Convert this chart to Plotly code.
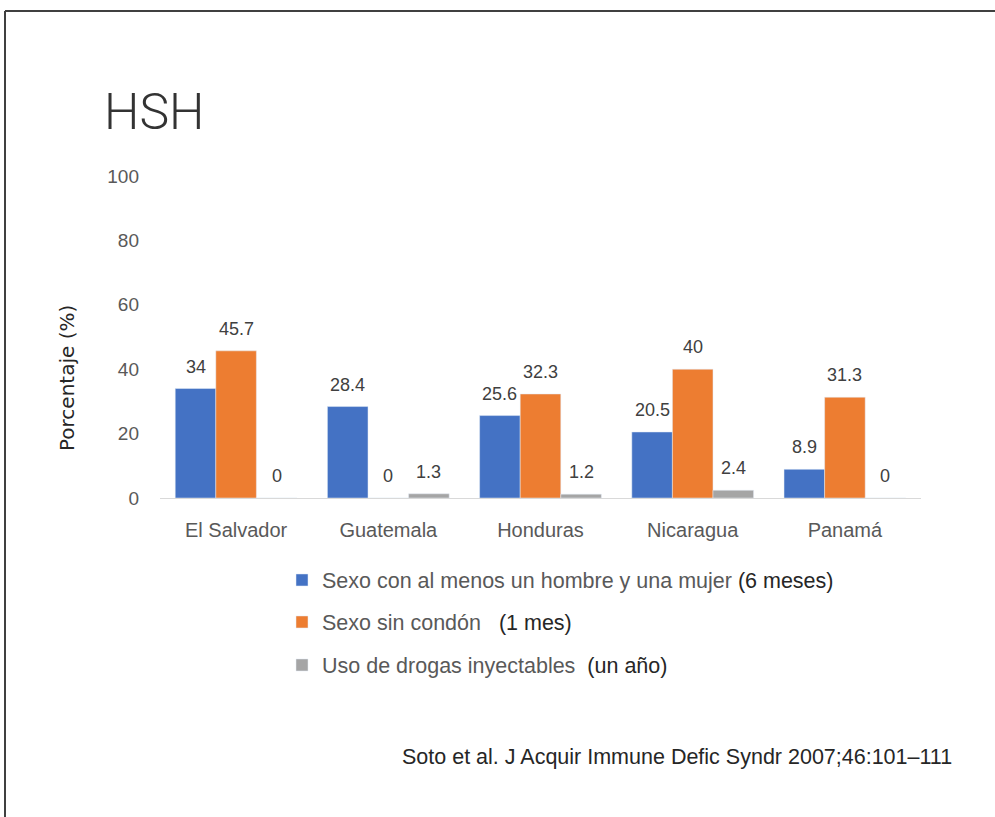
import plotly.graph_objects as go

categories = ["El Salvador", "Guatemala", "Honduras", "Nicaragua", "Panamá"]
sexo_hombre_mujer = [34, 28.4, 25.6, 20.5, 8.9]
sexo_sin_condon = [45.7, 0, 32.3, 40, 31.3]
drogas_inyectables = [0, 1.3, 1.2, 2.4, 0]
y_ticks = [0, 20, 40, 60, 80, 100]

series_names = [
    "Sexo con al menos un hombre y una mujer <span style='color:#262626'>(6 meses)</span>",
    "Sexo sin condón   <span style='color:#262626'>(1 mes)</span>",
    "Uso de drogas inyectables  <span style='color:#262626'>(un año)</span>",
]
series_values = [sexo_hombre_mujer, sexo_sin_condon, drogas_inyectables]
colors = ["#4472C4", "#ED7D31", "#A5A5A5"]

W, H = 995, 817
L, R, T, B = 160, 74, 176, 319
PW, PH = W - L - R, H - T - B

def px(x):
    return (x - L) / PW

def py(y):
    return (H - B - y) / PH

bar_w = 0.8 / 3
xs = list(range(len(categories)))
FONT = "Liberation Sans, Arial, sans-serif"

fig = go.Figure()
legend_ids = ["legend", "legend2", "legend3"]
legend_y = [580, 622, 665]
for i, (name, vals, col) in enumerate(zip(series_names, series_values, colors)):
    fig.add_trace(go.Bar(
        x=xs, y=vals, name=name, marker_color=col,
        width=bar_w, offset=(i - 1.5) * bar_w,
        legend=legend_ids[i], hoverinfo="y",
    ))
    for j, v in enumerate(vals):
        fig.add_annotation(
            x=j + (i - 1) * bar_w, y=v, xref="x", yref="y",
            text=f"{v:g}", showarrow=False, yanchor="bottom", yshift=10,
            font=dict(family=FONT, size=18, color="#404040"),
        )

legend_common = dict(
    xanchor="left", yanchor="middle", bgcolor="rgba(0,0,0,0)",
    font=dict(family=FONT, size=21.5, color="#595959"),
    itemclick=False, itemdoubleclick=False,
)
layout_legends = {}
for lid, ly in zip(legend_ids, legend_y):
    layout_legends[lid] = dict(x=px(282), y=py(ly), **legend_common)

fig.update_layout(
    width=W, height=H,
    margin=dict(l=L, r=R, t=T, b=B),
    paper_bgcolor="white", plot_bgcolor="white",
    barmode="overlay",
    showlegend=True,
    **layout_legends,
    xaxis=dict(
        tickvals=xs, ticktext=categories, range=[-0.5, len(categories) - 0.5],
        showgrid=False, zeroline=False, showline=True, linecolor="#D9D9D9", linewidth=1,
        ticks="", tickfont=dict(family=FONT, size=20, color="#595959"),
        ticklabelstandoff=14,
    ),
    yaxis=dict(
        range=[0, 100], tickvals=y_ticks, showgrid=False, zeroline=False,
        showline=False, ticks="", tickfont=dict(family=FONT, size=19, color="#595959"),
        ticklabelstandoff=20,
    ),
    annotations=list(fig.layout.annotations) + [
        dict(text="HSH", xref="paper", yref="paper", x=px(102), y=py(112),
             xanchor="left", yanchor="middle", showarrow=False,
             font=dict(family="Roboto, Liberation Sans, sans-serif", size=50, weight=300, color="#333333")),
        dict(text="Porcentaje (%)", xref="paper", yref="paper", x=px(67), y=py(378),
             xanchor="center", yanchor="middle", textangle=-90, showarrow=False,
             font=dict(family="DejaVu Sans, sans-serif", size=20, color="#262626")),
        dict(text="Soto et al. J Acquir Immune Defic Syndr 2007;46:101–111",
             xref="paper", yref="paper", x=px(400), y=py(757),
             xanchor="left", yanchor="middle", showarrow=False,
             font=dict(family=FONT, size=21.5, color="#262626")),
    ],
    shapes=[
        dict(type="line", xref="paper", yref="paper", x0=px(5), x1=px(995), y0=py(11), y1=py(11),
             line=dict(color="#404040", width=2)),
        dict(type="line", xref="paper", yref="paper", x0=px(5), x1=px(5), y0=py(11), y1=py(817),
             line=dict(color="#404040", width=2)),
    ],
)

fig.write_html("out.html", config={"displayModeBar": False},
               post_script="document.body.style.margin='0';")
